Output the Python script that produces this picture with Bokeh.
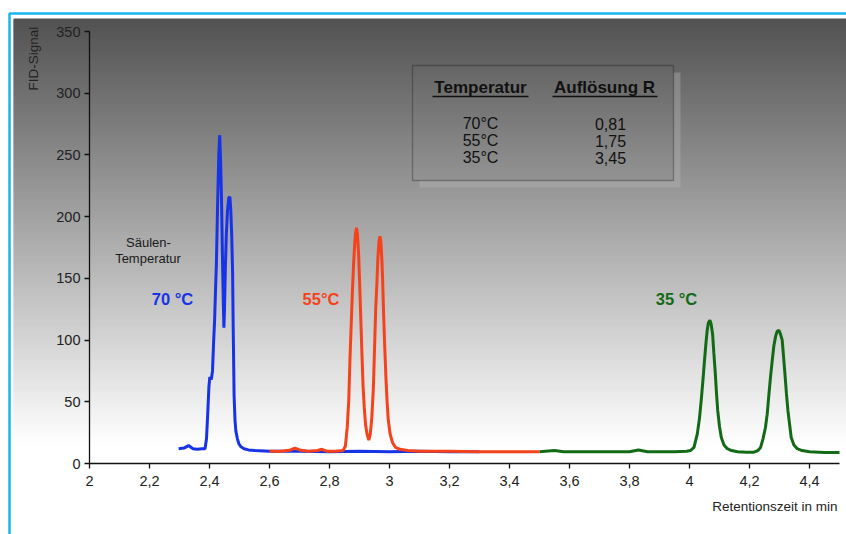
import numpy as np
from bokeh.plotting import figure
from bokeh.models import Range1d, LinearAxis, FixedTicker, Label, BoxAnnotation
from bokeh.embed import file_html
from bokeh.resources import INLINE

# ---------------- data ----------------
blue_x = [2.297, 2.315, 2.330, 2.345, 2.360, 2.375, 2.385, 2.390, 2.394, 2.398,
          2.401, 2.406, 2.410, 2.414, 2.417, 2.420, 2.423, 2.427, 2.431, 2.434,
          2.437, 2.440, 2.443, 2.446, 2.448, 2.450, 2.453, 2.456, 2.460, 2.464,
          2.468, 2.471, 2.474, 2.477, 2.479, 2.482, 2.485, 2.488, 2.493, 2.498,
          2.505, 2.515, 2.530, 2.550, 2.600, 2.700, 2.800, 2.900, 3.000, 3.100,
          3.200, 3.300]
blue_y = [12, 12.5, 14.5, 12, 11.5, 12, 12, 20, 40, 62,
          70, 68, 75, 100, 116, 140, 162, 210, 250, 266,
          245, 215, 170, 130, 110, 125, 160, 185, 205, 215,
          216, 205, 185, 155, 110, 55, 35, 26, 20, 16,
          13.5, 12, 11, 10.5, 10, 10, 9.5, 10, 9.5, 10,
          9.5, 9.5]

red_x = [2.600, 2.640, 2.670, 2.685, 2.700, 2.730, 2.760, 2.775, 2.790, 2.820,
         2.845, 2.853, 2.859, 2.864, 2.868, 2.872, 2.876, 2.880, 2.884, 2.887,
         2.890, 2.893, 2.897, 2.900, 2.904, 2.908, 2.912, 2.916, 2.920, 2.925,
         2.931, 2.936, 2.941, 2.946, 2.950, 2.954, 2.958, 2.961, 2.965, 2.968,
         2.971, 2.974, 2.977, 2.980, 2.984, 2.988, 2.992, 2.996, 3.002, 3.010,
         3.020, 3.035, 3.060, 3.100, 3.200, 3.300, 3.400, 3.500]
red_y = [10, 10, 11, 12.5, 11, 10, 10.5, 11.5, 10, 10,
         10.5, 14, 29, 50, 83, 110, 137, 160, 178, 187,
         191, 186, 170, 150, 120, 90, 62, 45, 32, 24,
         19, 24, 37, 60, 92, 125, 146, 165, 180, 184,
         180, 168, 150, 124, 95, 70, 50, 35, 24, 17,
         13, 11.5, 10.5, 10, 10, 9.5, 9.5, 9.5]

green_x = [3.500, 3.550, 3.580, 3.600, 3.700, 3.800, 3.830, 3.860, 3.900, 3.950,
           3.990, 4.003, 4.015, 4.026, 4.033, 4.039, 4.045, 4.050, 4.055, 4.059,
           4.063, 4.068, 4.072, 4.077, 4.081, 4.086, 4.090, 4.094, 4.100, 4.106,
           4.115, 4.126, 4.140, 4.160, 4.190, 4.215, 4.228, 4.237, 4.245, 4.253,
           4.259, 4.264, 4.270, 4.276, 4.281, 4.287, 4.292, 4.298, 4.303, 4.309,
           4.313, 4.318, 4.323, 4.328, 4.334, 4.339, 4.348, 4.359, 4.375, 4.400,
           4.450, 4.500]
green_y = [9.5, 10.5, 9.5, 9.5, 9.5, 9.5, 11, 9.5, 9.5, 9.5,
           10, 10.5, 13, 24, 36, 51, 68, 83.5, 98, 108,
           114, 116, 113, 105, 90, 73, 57, 43, 30, 21,
           15, 12, 10.5, 9.5, 9.2, 9.2, 10.5, 13, 20, 29,
           40, 54, 70, 84, 95, 103, 107, 108, 105, 100,
           88, 73, 57, 43, 31, 21, 15, 12, 10.5, 9.5,
           9, 9]

x_ticks = [2.0, 2.2, 2.4, 2.6, 2.8, 3.0, 3.2, 3.4, 3.6, 3.8, 4.0, 4.2, 4.4]
x_tick_labels = ["2", "2,2", "2,4", "2,6", "2,8", "3", "3,2", "3,4", "3,6",
                 "3,8", "4", "4,2", "4,4"]
y_ticks = [0, 50, 100, 150, 200, 250, 300, 350]

table_temps = ["70°C", "55°C", "35°C"]
table_res = ["0,81", "1,75", "3,45"]

# ---------------- pixel helpers (layout only) ----------------
W, H = 846, 534
def px2x(px):
    return 2 + (px - 89) / 300.0
def py2y(py):
    return (463 - py) * 350.0 / 432.0

FONT = "Liberation Sans"

p = figure(width=W, height=H, output_backend="svg", toolbar_location=None,
           x_axis_type=None, y_axis_type=None,
           x_range=Range1d(px2x(0), px2x(W)), y_range=Range1d(py2y(H), py2y(0)),
           min_border=0, min_border_left=0, min_border_right=0,
           min_border_top=0, min_border_bottom=0)
p.outline_line_color = None
p.background_fill_color = "white"
p.border_fill_color = "white"
p.xgrid.visible = False
p.ygrid.visible = False

# ---------------- background gradient (chart area) ----------------
top_px, white_px, step = 18, 444, 2
edges = np.arange(top_px, white_px + step, step)
cols = []
for e in edges[:-1]:
    t = (e - top_px) / (white_px - top_px)
    v = int(round(82 + (255 - 82) * t))
    cols.append("#%02x%02x%02x" % (v, v, v))
p.quad(left=px2x(13), right=px2x(W + 5),
       top=[py2y(e) for e in edges[:-1]],
       bottom=[py2y(e + step + 1.2) for e in edges[:-1]],
       fill_color=cols, line_color=None)

# cyan frame
p.line([px2x(9), px2x(9), px2x(W + 10)], [py2y(H + 10), py2y(13), py2y(13)],
       line_color="#18b4ec", line_width=2.5)

# ---------------- axes ----------------
xaxis = LinearAxis(fixed_location=0, bounds=(2, 4.5),
                   ticker=FixedTicker(ticks=x_ticks, minor_ticks=[]))
xaxis.major_label_overrides = dict(zip(x_ticks, x_tick_labels))
yaxis = LinearAxis(fixed_location=2, bounds=(0, 350),
                   ticker=FixedTicker(ticks=y_ticks, minor_ticks=[]))
for ax in (xaxis, yaxis):
    ax.axis_line_color = "#111111"
    ax.axis_line_width = 1.3
    ax.major_tick_line_color = "#111111"
    ax.major_tick_line_width = 1.3
    ax.major_tick_out = 5
    ax.major_tick_in = 0
    ax.minor_tick_out = 0
    ax.minor_tick_in = 0
    ax.major_label_text_font = FONT
    ax.major_label_text_font_size = "14.5px"
    ax.major_label_text_color = "#222222"
xaxis.major_label_standoff = 7
yaxis.major_label_standoff = 4
p.add_layout(xaxis, "below")
p.add_layout(yaxis, "left")

# ---------------- series ----------------
p.line(blue_x, blue_y, line_color="#1733e8", line_width=3)
p.line(red_x, red_y, line_color="#f5421a", line_width=3)
p.line(green_x, green_y, line_color="#136a16", line_width=3)

# ---------------- texts ----------------
def lab(txt, px, py, size="13px", color="#222222", bold=False, align="center",
        angle=0.0, baseline="middle"):
    p.add_layout(Label(x=px2x(px), y=py2y(py), text=txt, text_font=FONT,
                       text_font_size=size, text_color=color,
                       text_font_style="bold" if bold else "normal",
                       text_align=align, text_baseline=baseline, angle=angle))

lab("FID-Signal", 33, 90, size="13.5px", align="left", angle=np.pi / 2)
lab("Retentionszeit in min", 837, 506, size="13.5px", align="right")
lab("Säulen-", 148, 242, size="13px", color="#1a1a1a")
lab("Temperatur", 147.5, 258, size="13px", color="#1a1a1a")
lab("70 °C", 172, 298, size="16.5px", color="#1733e8", bold=True)
lab("55°C", 320.5, 298, size="16.5px", color="#f5421a", bold=True)
lab("35 °C", 676, 298, size="16.5px", color="#136a16", bold=True)

# table box with shadow
p.add_layout(BoxAnnotation(left=px2x(673), right=px2x(680), top=py2y(72), bottom=py2y(187),
                           fill_color="#bbbbbb", fill_alpha=0.35, line_color=None))
p.add_layout(BoxAnnotation(left=px2x(419), right=px2x(673), top=py2y(180), bottom=py2y(187),
                           fill_color="#bbbbbb", fill_alpha=0.35, line_color=None))
p.add_layout(BoxAnnotation(left=px2x(412), right=px2x(673), top=py2y(65), bottom=py2y(180),
                           fill_alpha=0, line_color="#111111", line_width=1.3))

lab("Temperatur", 480, 87, size="17px", color="#111111", bold=True)
lab("Auflösung R", 604, 87, size="17px", color="#111111", bold=True)
p.segment(x0=[px2x(432), px2x(552)], x1=[px2x(528), px2x(657)],
          y0=[py2y(96), py2y(96)], y1=[py2y(96), py2y(96)],
          line_color="#111111", line_width=1.3)
for i, (t, r) in enumerate(zip(table_temps, table_res)):
    lab(t, 480, 123 + 17 * i, size="16px", color="#111111")
    lab(r, 610, 123 + 17 * i, size="16px", color="#111111")

open("out.html", "w").write(file_html(p, INLINE))
